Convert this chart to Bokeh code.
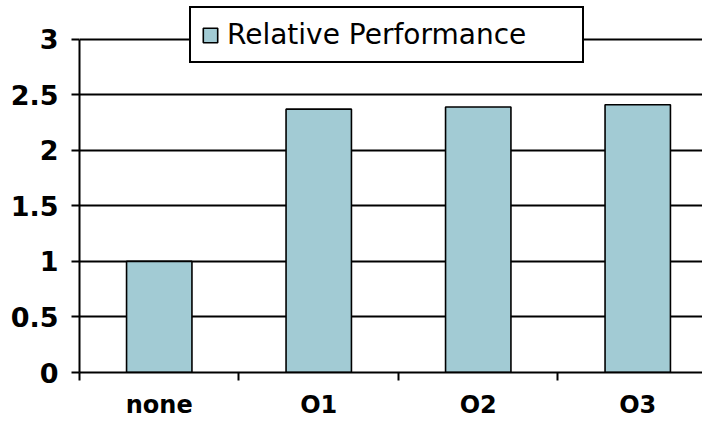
from bokeh.plotting import figure
from bokeh.models import Range1d, FixedTicker, ColumnDataSource
from bokeh.embed import file_html
from bokeh.resources import INLINE

categories = ["none", "O1", "O2", "O3"]
values = [1.0, 2.37, 2.39, 2.41]
y_ticks = [0, 0.5, 1, 1.5, 2, 2.5, 3]
y_labels = ["0", "0.5", "1", "1.5", "2", "2.5", "3"]
series_name = "Relative Performance"

xpos = [i + 0.5 for i in range(len(categories))]
src = ColumnDataSource(dict(x=xpos, top=values))

p = figure(width=702, height=421, output_backend="svg", toolbar_location=None,
           x_range=Range1d(0, 3.906), y_range=Range1d(0, 3.348),
           min_border_left=79, min_border_right=0, min_border_top=0,
           min_border_bottom=46)
p.outline_line_color = None
p.background_fill_color = "white"

p.vbar(x="x", top="top", width=0.41, source=src, fill_color="#A2CBD4",
       line_color="black", line_width=1.6, legend_label=series_name)

# y axis
p.yaxis.ticker = FixedTicker(ticks=y_ticks)
p.yaxis.major_label_overrides = {t: l for t, l in zip(y_ticks, y_labels)}
p.yaxis.bounds = (0, 3)
p.yaxis.axis_line_width = 2
p.yaxis.axis_line_color = "black"
p.yaxis.major_tick_line_width = 2
p.yaxis.major_tick_out = 8
p.yaxis.major_tick_in = 0
p.yaxis.minor_tick_line_color = None
p.yaxis.major_label_standoff = 13
p.yaxis.major_label_text_font = "DejaVu Sans"
p.yaxis.major_label_text_font_style = "bold"
p.yaxis.major_label_text_font_size = "27px"
p.yaxis.major_label_text_color = "black"

# x axis
p.xaxis.ticker = FixedTicker(ticks=xpos, minor_ticks=[0, 1, 2, 3])
p.xaxis.major_label_overrides = {x: c for x, c in zip(xpos, categories)}
p.xaxis.axis_line_width = 2
p.xaxis.axis_line_color = "black"
p.xaxis.major_tick_line_color = None
p.xaxis.major_tick_out = 0
p.xaxis.major_tick_in = 0
p.xaxis.minor_tick_line_color = "black"
p.xaxis.minor_tick_line_width = 2
p.xaxis.minor_tick_out = 8
p.xaxis.minor_tick_in = 0
p.xaxis.major_label_standoff = 10
p.xaxis.major_label_text_font = "DejaVu Sans"
p.xaxis.major_label_text_font_style = "bold"
p.xaxis.major_label_text_font_size = "24px"
p.xaxis.major_label_text_color = "black"

# grid
p.xgrid.grid_line_color = None
p.ygrid.ticker = FixedTicker(ticks=y_ticks[1:])
p.ygrid.grid_line_color = "black"
p.ygrid.grid_line_width = 2

# legend
lg = p.legend[0]
lg.location = (110, 309)
lg.border_line_color = "black"
lg.border_line_width = 2
lg.border_line_alpha = 1
lg.background_fill_color = "white"
lg.background_fill_alpha = 1
lg.padding = 10
lg.margin = 0
lg.glyph_width = 18
lg.glyph_height = 18
lg.label_standoff = 8
lg.label_width = 345
lg.label_height = 30
lg.label_text_font = "DejaVu Sans"
lg.label_text_font_size = "28px"
lg.label_text_color = "black"

open("out.html", "w").write(file_html(p, INLINE))
